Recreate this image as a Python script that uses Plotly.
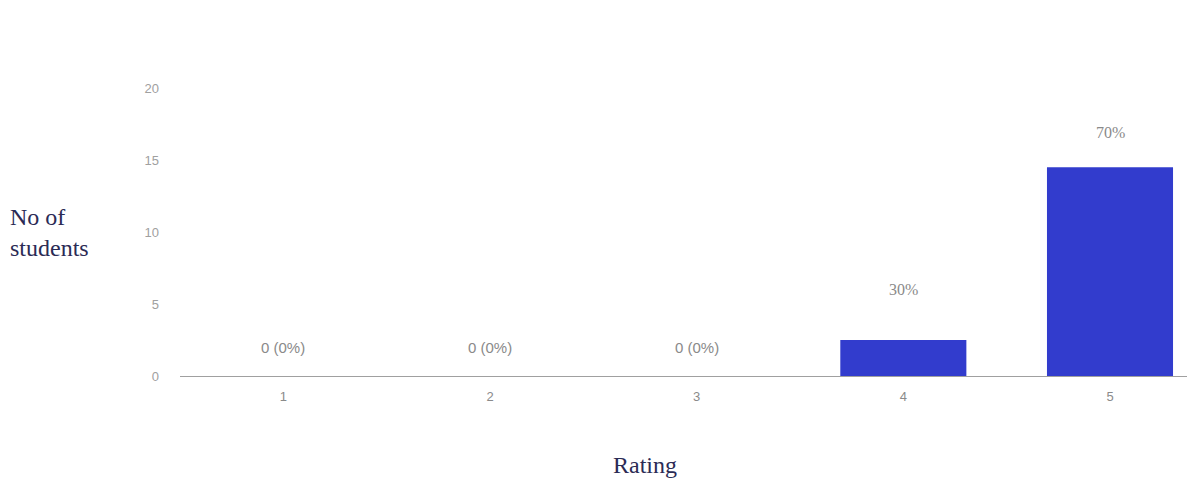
import plotly.graph_objects as go

ratings = [1, 2, 3, 4, 5]
students = [0, 0, 0, 2.5, 14.5]
labels = ["0 (0%)", "0 (0%)", "0 (0%)", "30%", "70%"]
y_ticks = [0, 5, 10, 15, 20]

fig = go.Figure()
fig.add_trace(go.Bar(
    x=ratings, y=students, width=0.61,
    marker=dict(color="rgb(50,60,205)", line=dict(width=0)),
    hoverinfo="skip",
))

for r, v, t in zip(ratings, students, labels):
    is_zero = v == 0
    fig.add_annotation(
        x=r, y=v, text=t, showarrow=False, yanchor="bottom",
        yshift=18 if is_zero else (40 if v < 5 else 24),
        font=dict(family="Liberation Sans, Arial" if is_zero else "Liberation Serif, Times New Roman",
                  size=15 if is_zero else 16, color="#8a8a8a"),
    )

fig.add_annotation(
    xref="paper", yref="paper", x=-0.168, y=0.4, xanchor="left", yanchor="middle",
    text="No of<br>students", showarrow=False, align="left",
    font=dict(family="Liberation Serif, Times New Roman", size=24, color="#2b2b55"),
)
fig.add_annotation(
    xref="paper", yref="paper", x=0.455, y=0, yshift=-89, xanchor="center", yanchor="middle",
    text="Rating", showarrow=False,
    font=dict(family="Liberation Serif, Times New Roman", size=24, color="#2b2b55"),
)

fig.update_layout(
    width=1195, height=481,
    margin=dict(l=172, r=0, t=8, b=113),
    paper_bgcolor="white", plot_bgcolor="white",
    showlegend=False,
    xaxis=dict(
        range=[0.5, 5.45], tickmode="array", tickvals=ratings, ticktext=[str(r) for r in ratings],
        showline=True, linecolor="#a0a0a0", linewidth=1.2, showgrid=False, zeroline=False,
        ticks="", tickfont=dict(family="Liberation Sans, Arial", size=13, color="#8a8a8a"),
        ticklabelstandoff=8,
    ),
    yaxis=dict(
        range=[0, 25], tickmode="array", tickvals=y_ticks, ticktext=[str(v) for v in y_ticks],
        showgrid=False, zeroline=False, showline=False, ticks="",
        tickfont=dict(family="Liberation Sans, Arial", size=13, color="#a0a0a0"),
        ticklabelstandoff=20,
    ),
)

fig.write_html("out.html")
